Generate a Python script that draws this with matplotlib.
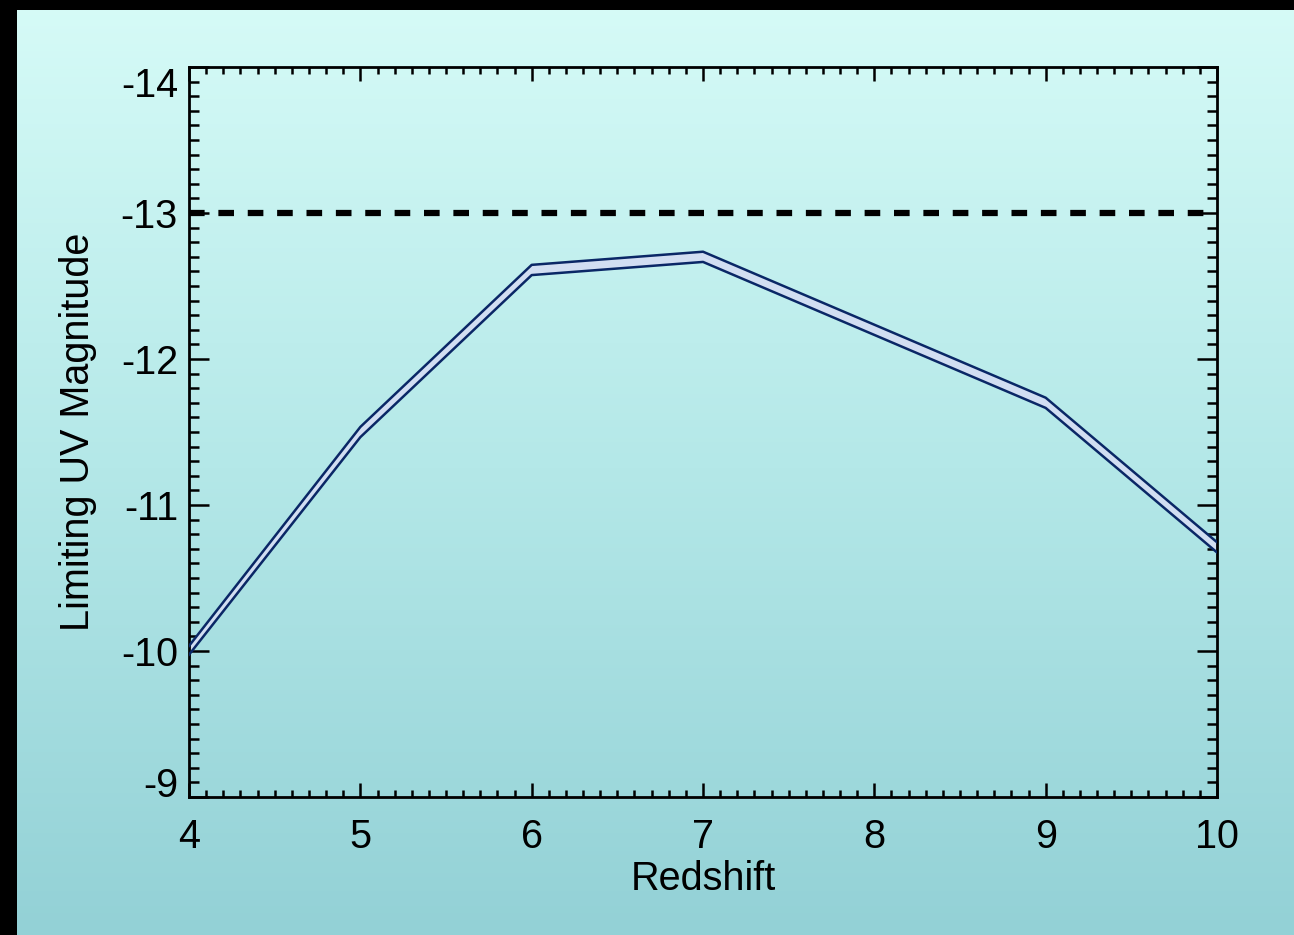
import numpy as np
import matplotlib.pyplot as plt
from matplotlib.colors import LinearSegmentedColormap
from matplotlib.patches import Rectangle

plt.rcParams['font.family'] = ['Liberation Sans', 'DejaVu Sans']

# datos
redshift = [4, 5, 6, 7, 8, 9, 10]
mag_bright = [-10.035, -11.535, -12.645, -12.735, -12.235, -11.735, -10.745]
mag_faint = [-9.975, -11.465, -12.575, -12.665, -12.165, -11.665, -10.675]
limite = -13.0
yticks = [-14, -13, -12, -11, -10, -9]
xticks = [4, 5, 6, 7, 8, 9, 10]

fs = 28.5

fig = plt.figure(figsize=(12.94, 9.35), dpi=100)

# fondo degradado
bg = fig.add_axes([0, 0, 1, 1], zorder=-10)
cmap = LinearSegmentedColormap.from_list('bg', ['#93d1d6', '#b4e8e8', '#d6fbf7'])
grad = np.linspace(0, 1, 256).reshape(-1, 1)
bg.imshow(grad, aspect='auto', cmap=cmap, origin='lower', extent=[0, 1, 0, 1])
bg.add_patch(Rectangle((0, 0), 17 / 1294, 1, color='black', lw=0))
bg.add_patch(Rectangle((0, 1 - 10 / 935), 1, 10 / 935, color='black', lw=0))
bg.set_xlim(0, 1)
bg.set_ylim(0, 1)
bg.axis('off')

ax = fig.add_axes([0.1461, 0.1476, 0.7944, 0.7807])
ax.set_facecolor('none')

ax.fill_between(redshift, mag_bright, mag_faint, facecolor='#d2def2', edgecolor='none', zorder=2)
ax.plot(redshift, mag_bright, color='#0a2766', lw=1.8, zorder=3)
ax.plot(redshift, mag_faint, color='#0a2766', lw=1.8, zorder=3)
ax.axhline(limite, color='black', lw=4.5, dashes=(2.5, 2.2), dash_capstyle='butt', zorder=4)

ax.set_xlim(4, 10)
ax.set_ylim(-9, -14)
ax.set_xticks(xticks)
ax.set_xticks(np.arange(4, 10.01, 0.1), minor=True)
ax.set_yticks(yticks)
ax.set_yticks(np.arange(-14, -8.99, 0.1), minor=True)

for s in ax.spines.values():
    s.set_linewidth(2.0)

ax.tick_params(axis='both', which='both', direction='in', top=True, right=True, width=1.8, colors='black')
ax.tick_params(axis='x', which='major', length=10, pad=15, labelsize=fs)
ax.tick_params(axis='x', which='minor', length=5)
ax.tick_params(axis='y', which='major', length=14.4, pad=8, labelsize=fs)
ax.tick_params(axis='y', which='minor', length=7.2)

ax.set_xticklabels([str(v) for v in xticks])
ax.set_yticklabels([str(v) for v in yticks])
labs = ax.get_yticklabels()
labs[0].set_va('top')
labs[-1].set_va('baseline')

ax.set_xlabel('Redshift', fontsize=fs)
ax.xaxis.set_label_coords(0.5, -0.127)
ax.xaxis.label.set_va('baseline')
ax.set_ylabel('Limiting UV Magnitude', fontsize=fs)
ax.yaxis.set_label_coords(-0.108, 0.5)
ax.yaxis.label.set_va('center')

fig.savefig('out.png', dpi=100)
